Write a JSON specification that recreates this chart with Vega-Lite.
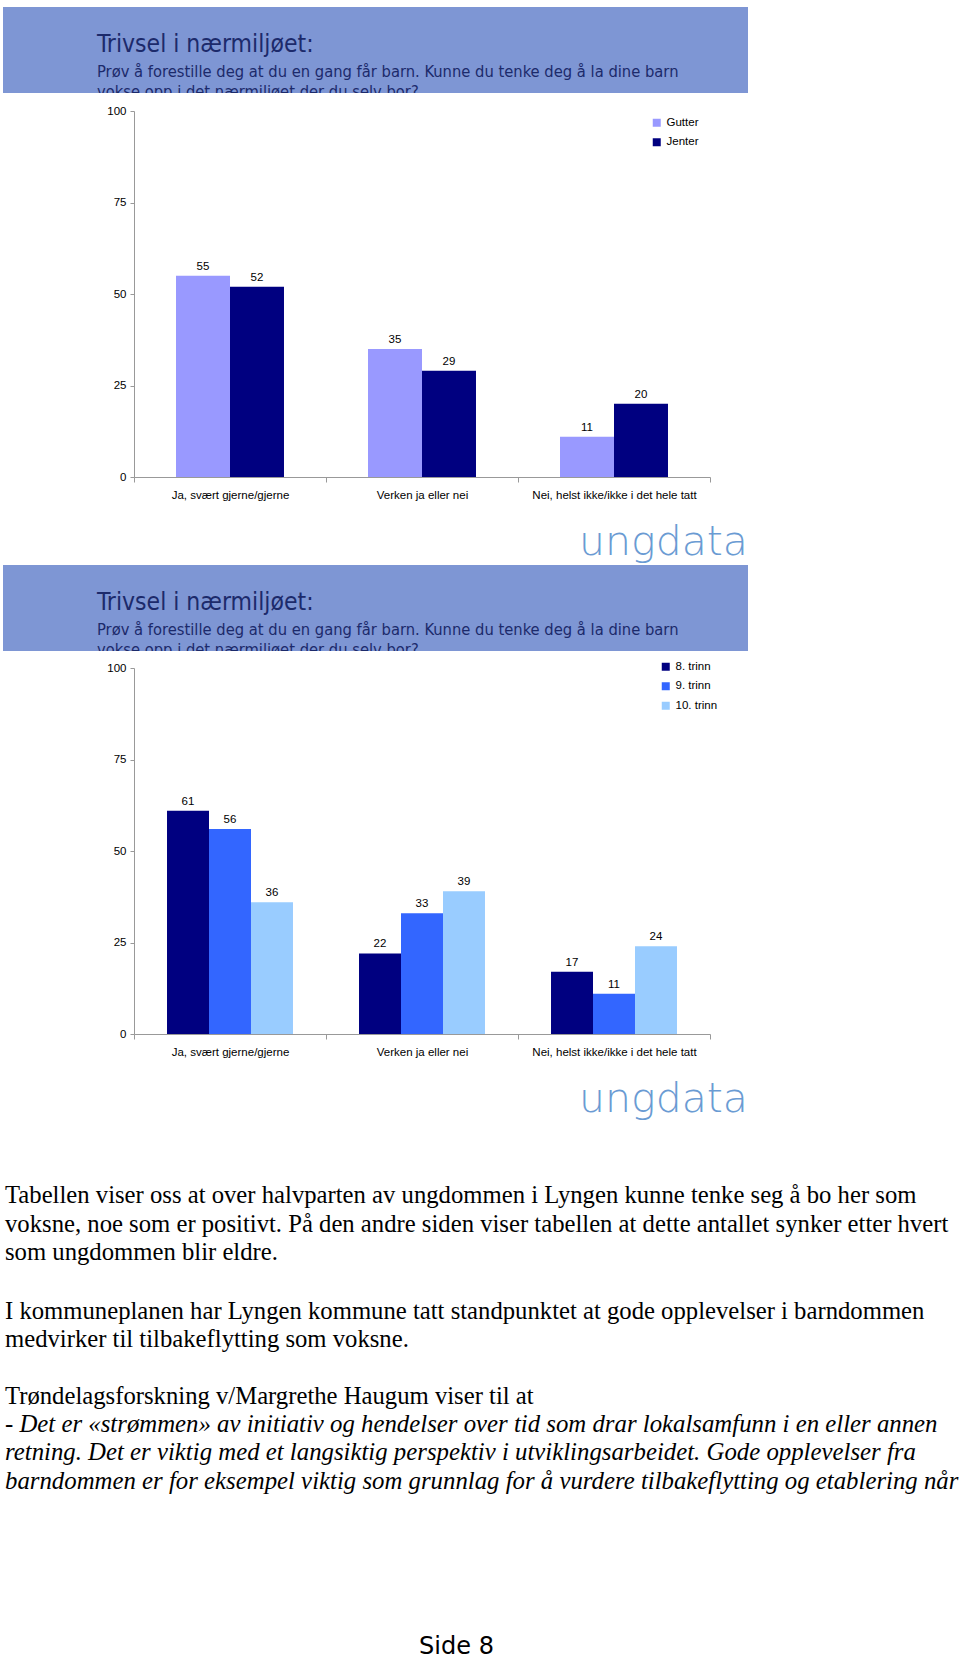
{
  "$schema": "https://vega.github.io/schema/vega-lite/v6.json",
  "background": "white",
  "padding": {"left": 3, "top": 7, "right": 0, "bottom": 0},
  "spacing": 0,
  "bounds": "flush",
  "resolve": {
    "scale": {"color": "independent", "xOffset": "independent", "x": "independent", "y": "independent"},
    "legend": {"color": "independent"},
    "axis": {"x": "independent", "y": "independent"}
  },
  "config": {"view": {"stroke": null}},
  "datasets": {
    "gender": [
      {"svar": "Ja, svært gjerne/gjerne", "kjonn": "Gutter", "prosent": 55},
      {"svar": "Ja, svært gjerne/gjerne", "kjonn": "Jenter", "prosent": 52},
      {"svar": "Verken ja eller nei", "kjonn": "Gutter", "prosent": 35},
      {"svar": "Verken ja eller nei", "kjonn": "Jenter", "prosent": 29},
      {"svar": "Nei, helst ikke/ikke i det hele tatt", "kjonn": "Gutter", "prosent": 11},
      {"svar": "Nei, helst ikke/ikke i det hele tatt", "kjonn": "Jenter", "prosent": 20}
    ],
    "trinn": [
      {"svar": "Ja, svært gjerne/gjerne", "trinn": "8. trinn", "prosent": 61},
      {"svar": "Ja, svært gjerne/gjerne", "trinn": "9. trinn", "prosent": 56},
      {"svar": "Ja, svært gjerne/gjerne", "trinn": "10. trinn", "prosent": 36},
      {"svar": "Verken ja eller nei", "trinn": "8. trinn", "prosent": 22},
      {"svar": "Verken ja eller nei", "trinn": "9. trinn", "prosent": 33},
      {"svar": "Verken ja eller nei", "trinn": "10. trinn", "prosent": 39},
      {"svar": "Nei, helst ikke/ikke i det hele tatt", "trinn": "8. trinn", "prosent": 17},
      {"svar": "Nei, helst ikke/ikke i det hele tatt", "trinn": "9. trinn", "prosent": 11},
      {"svar": "Nei, helst ikke/ikke i det hele tatt", "trinn": "10. trinn", "prosent": 24}
    ]
  },
  "vconcat": [
    {
      "width": 745, "height": 86,
      "data": {"values": [{}]},
      "mark": {"type": "rect", "color": "#7e96d4"},
      "title": {
        "text": "Trivsel i nærmiljøet:",
        "subtitle": ["Prøv å forestille deg at du en gang får barn. Kunne du tenke deg å la dine barn", "vokse opp i det nærmiljøet der du selv bor?"],
        "orient": "bottom", "anchor": "start", "frame": "group", "offset": -60, "dx": 94,
        "baseline": "top", "font": "DejaVu Sans Condensed, DejaVu Sans", "fontSize": 24.5, "fontWeight": "normal", "color": "#1c2a6b",
        "subtitleFont": "DejaVu Sans Condensed, DejaVu Sans", "subtitleFontSize": 16.4, "subtitleColor": "#1c2a6b", "subtitleLineHeight": 20, "subtitlePadding": 6
      }
    },
    {
      "width": 745, "height": 18,
      "data": {"values": [{}]},
      "mark": {"type": "rect", "color": "white"}
    },
    {
      "width": 745, "height": 366,
      "data": {"name": "gender"},
      "title": {"text": "ungdata", "orient": "bottom", "anchor": "end", "frame": "group", "offset": 22, "baseline": "top", "font": "DejaVu Sans ExtraLight, DejaVu Sans", "fontSize": 41, "fontWeight": 200, "color": "#6a9bd3"},
      "encoding": {
        "x": {"field": "svar", "type": "nominal", "sort": ["Ja, svært gjerne/gjerne", "Verken ja eller nei", "Nei, helst ikke/ikke i det hele tatt"],
          "scale": {"range": [131, 707], "paddingInner": 0, "paddingOuter": 0},
          "axis": {"title": null, "tickBand": "extent", "labelAngle": 0, "tickSize": 5, "labelPadding": 7, "labelFont": "Liberation Sans", "labelFontSize": 11.5, "labelColor": "#000", "domainColor": "#999", "tickColor": "#999", "grid": false}},
        "xOffset": {"field": "kjonn", "type": "nominal", "sort": ["Gutter", "Jenter"], "scale": {"paddingInner": 0, "paddingOuter": 0.778}},
        "y": {"field": "prosent", "type": "quantitative", "scale": {"domain": [0, 100]},
          "axis": {"title": null, "offset": -131, "values": [0, 25, 50, 75, 100], "grid": false, "tickSize": 4, "labelPadding": 4, "labelFont": "Liberation Sans", "labelFontSize": 11.5, "labelColor": "#000", "domainColor": "#999", "tickColor": "#999"}}
      },
      "layer": [
        {
          "mark": {"type": "bar"},
          "encoding": {
            "color": {"field": "kjonn", "type": "nominal", "sort": ["Gutter", "Jenter"],
              "scale": {"domain": ["Gutter", "Jenter"], "range": ["#9999ff", "#000080"]},
              "legend": {"title": null, "orient": "none", "legendX": 648, "legendY": 6, "padding": 0, "symbolType": "square", "symbolSize": 64, "symbolStrokeWidth": 0, "labelFont": "Liberation Sans", "labelFontSize": 11.5, "labelColor": "#000", "rowPadding": 6.5, "labelOffset": 4}}
          }
        },
        {
          "mark": {"type": "text", "baseline": "alphabetic", "dy": -6, "font": "Liberation Sans", "fontSize": 11.5, "color": "#000"},
          "encoding": {"text": {"field": "prosent", "type": "quantitative"}}
        }
      ]
    },
    {
      "width": 745, "height": 88,
      "data": {"values": [{}]},
      "mark": {"type": "rect", "opacity": 0}
    },
    {
      "width": 745, "height": 86,
      "data": {"values": [{}]},
      "mark": {"type": "rect", "color": "#7e96d4"},
      "title": {
        "text": "Trivsel i nærmiljøet:",
        "subtitle": ["Prøv å forestille deg at du en gang får barn. Kunne du tenke deg å la dine barn", "vokse opp i det nærmiljøet der du selv bor?"],
        "orient": "bottom", "anchor": "start", "frame": "group", "offset": -60, "dx": 94,
        "baseline": "top", "font": "DejaVu Sans Condensed, DejaVu Sans", "fontSize": 24.5, "fontWeight": "normal", "color": "#1c2a6b",
        "subtitleFont": "DejaVu Sans Condensed, DejaVu Sans", "subtitleFontSize": 16.4, "subtitleColor": "#1c2a6b", "subtitleLineHeight": 20, "subtitlePadding": 6
      }
    },
    {
      "width": 745, "height": 17,
      "data": {"values": [{}]},
      "mark": {"type": "rect", "color": "white"}
    },
    {
      "width": 745, "height": 366,
      "data": {"name": "trinn"},
      "title": {"text": "ungdata", "orient": "bottom", "anchor": "end", "frame": "group", "offset": 22, "baseline": "top", "font": "DejaVu Sans ExtraLight, DejaVu Sans", "fontSize": 41, "fontWeight": 200, "color": "#6a9bd3"},
      "encoding": {
        "x": {"field": "svar", "type": "nominal", "sort": ["Ja, svært gjerne/gjerne", "Verken ja eller nei", "Nei, helst ikke/ikke i det hele tatt"],
          "scale": {"range": [131, 707], "paddingInner": 0, "paddingOuter": 0},
          "axis": {"title": null, "tickBand": "extent", "labelAngle": 0, "tickSize": 5, "labelPadding": 7, "labelFont": "Liberation Sans", "labelFontSize": 11.5, "labelColor": "#000", "domainColor": "#999", "tickColor": "#999", "grid": false}},
        "xOffset": {"field": "trinn", "type": "nominal", "sort": ["8. trinn", "9. trinn", "10. trinn"], "scale": {"paddingInner": 0, "paddingOuter": 0.786}},
        "y": {"field": "prosent", "type": "quantitative", "scale": {"domain": [0, 100]},
          "axis": {"title": null, "offset": -131, "values": [0, 25, 50, 75, 100], "grid": false, "tickSize": 4, "labelPadding": 4, "labelFont": "Liberation Sans", "labelFontSize": 11.5, "labelColor": "#000", "domainColor": "#999", "tickColor": "#999"}}
      },
      "layer": [
        {
          "mark": {"type": "bar"},
          "encoding": {
            "color": {"field": "trinn", "type": "nominal", "sort": ["8. trinn", "9. trinn", "10. trinn"],
              "scale": {"domain": ["8. trinn", "9. trinn", "10. trinn"], "range": ["#000080", "#3366ff", "#99ccff"]},
              "legend": {"title": null, "orient": "none", "legendX": 657, "legendY": -7, "padding": 0, "symbolType": "square", "symbolSize": 64, "symbolStrokeWidth": 0, "labelFont": "Liberation Sans", "labelFontSize": 11.5, "labelColor": "#000", "rowPadding": 6.5, "labelOffset": 4}}
          }
        },
        {
          "mark": {"type": "text", "baseline": "alphabetic", "dy": -6, "font": "Liberation Sans", "fontSize": 11.5, "color": "#000"},
          "encoding": {"text": {"field": "prosent", "type": "quantitative"}}
        }
      ]
    },
    {
      "width": 950, "height": 149,
      "data": {"values": [{}]},
      "mark": {"type": "rect", "opacity": 0},
      "title": {
        "text": [
          "Tabellen viser oss at over halvparten av ungdommen i Lyngen kunne tenke seg å bo her som",
          "voksne, noe som er positivt. På den andre siden viser tabellen at dette antallet synker etter hvert",
          "som ungdommen blir eldre."
        ],
        "orient": "bottom", "anchor": "start", "frame": "group", "offset": 0, "dx": 2,
        "baseline": "top", "font": "Liberation Serif", "fontSize": 24.7, "fontWeight": "normal", "color": "#000", "lineHeight": 28.5
      }
    },
    {
      "width": 950, "height": 115.5,
      "data": {"values": [{}]},
      "mark": {"type": "rect", "opacity": 0},
      "title": {
        "text": [
          "I kommuneplanen har Lyngen kommune tatt standpunktet at gode opplevelser i barndommen",
          "medvirker til tilbakeflytting som voksne."
        ],
        "orient": "bottom", "anchor": "start", "frame": "group", "offset": 0, "dx": 2,
        "baseline": "top", "font": "Liberation Serif", "fontSize": 24.7, "fontWeight": "normal", "color": "#000", "lineHeight": 28.5
      }
    },
    {
      "width": 950, "height": 84.5,
      "data": {"values": [{}]},
      "mark": {"type": "rect", "opacity": 0},
      "title": {
        "text": "Trøndelagsforskning v/Margrethe Haugum viser til at",
        "orient": "bottom", "anchor": "start", "frame": "group", "offset": 0, "dx": 2,
        "baseline": "top", "font": "Liberation Serif", "fontSize": 24.7, "fontWeight": "normal", "color": "#000"
      }
    },
    {
      "width": 950, "height": 27.5,
      "data": {"values": [{}]},
      "mark": {"type": "rect", "opacity": 0},
      "title": {
        "text": [
          "- Det er «strømmen» av initiativ og hendelser over tid som drar lokalsamfunn i en eller annen",
          "retning. Det er viktig med et langsiktig perspektiv i utviklingsarbeidet. Gode opplevelser fra",
          "barndommen er for eksempel viktig som grunnlag for å vurdere tilbakeflytting og etablering når"
        ],
        "orient": "bottom", "anchor": "start", "frame": "group", "offset": 0, "dx": 2,
        "baseline": "top", "font": "Liberation Serif", "fontSize": 24.8, "fontStyle": "italic", "fontWeight": "normal", "color": "#000", "lineHeight": 28.5
      }
    },
    {
      "width": 907, "height": 223,
      "data": {"values": [{}]},
      "mark": {"type": "rect", "opacity": 0},
      "title": {"text": "Side 8", "orient": "bottom", "anchor": "middle", "frame": "group", "offset": 0, "baseline": "top", "font": "DejaVu Sans", "fontSize": 24, "fontWeight": "normal", "color": "#000"}
    }
  ]
}
